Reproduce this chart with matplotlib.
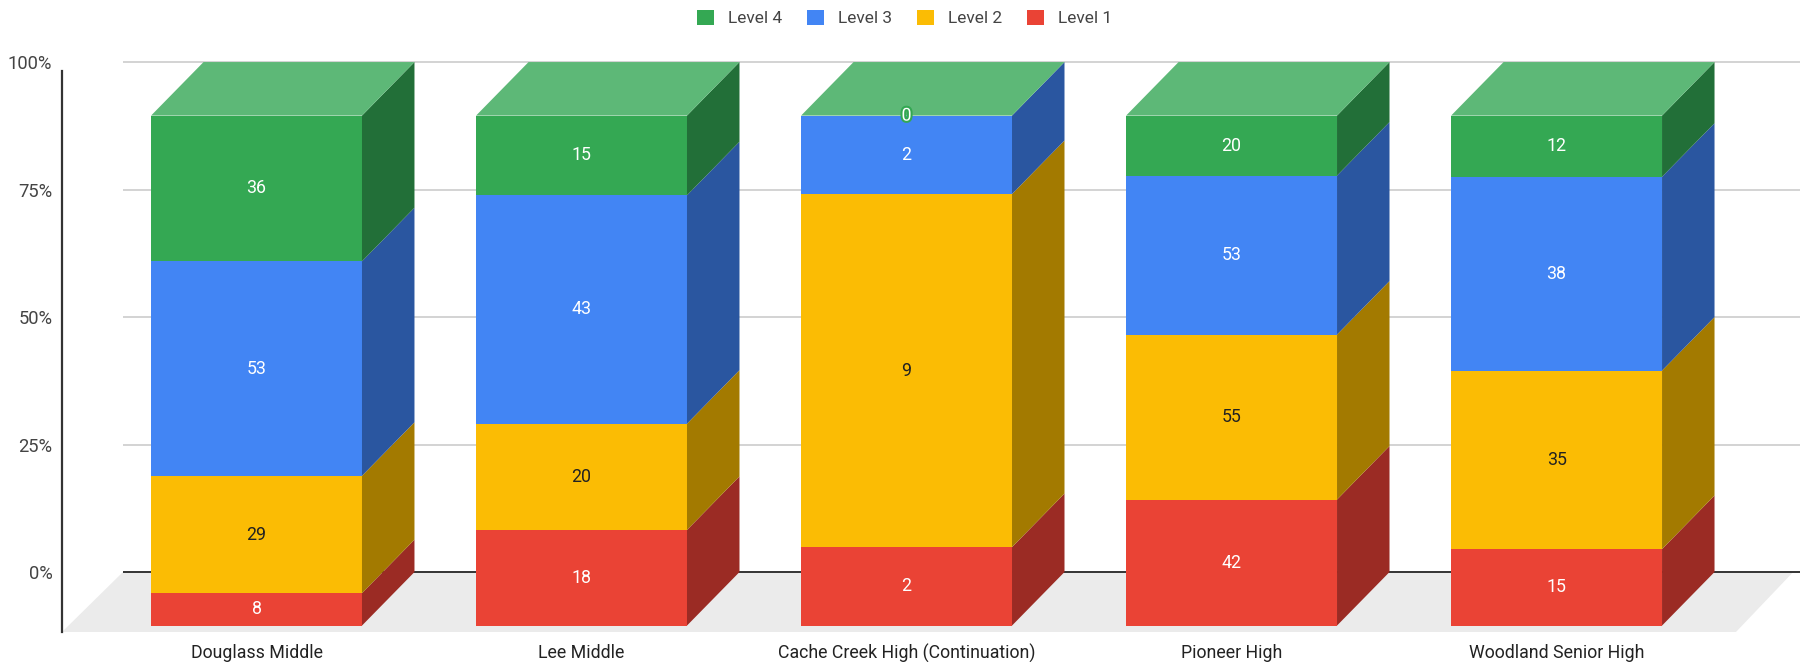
import numpy as np
import matplotlib.pyplot as plt
from matplotlib.patches import Polygon, Patch
import matplotlib.patheffects as pe

plt.rcParams['font.family'] = ['Roboto', 'DejaVu Sans']

# data (counts per level)
schools = ["Douglass Middle", "Lee Middle", "Cache Creek High (Continuation)",
           "Pioneer High", "Woodland Senior High"]
levels = ["Level 1", "Level 2", "Level 3", "Level 4"]
level1 = [8, 18, 2, 42, 15]
level2 = [29, 20, 9, 55, 35]
level3 = [53, 43, 2, 53, 38]
level4 = [36, 15, 0, 20, 12]
yticks = [0, 25, 50, 75, 100]

front_cols = ["#EA4335", "#FBBC04", "#4285F4", "#34A853"]
side_cols = ["#9B2B24", "#A37A00", "#2A56A0", "#226F38"]
top_col = "#5DB877"
text_cols = ["white", "#222222", "white", "white"]

W, H = 1808, 662
fig = plt.figure(figsize=(W / 100, H / 100), dpi=100)
ax = fig.add_axes([62 / W, 30 / H, 1738 / W, 572.5 / H])
ax.set_xlim(-0.5985, 4.749)
ax.set_ylim(-11.76, 100.5)

bw = 0.649   # bar width
dx = 0.1615  # depth offset, x
dy = 10.5    # depth offset, y (in %)

counts = np.array([level1, level2, level3, level4], dtype=float)
pct = counts / counts.sum(axis=0) * 100
cum = np.vstack([np.zeros(len(schools)), np.cumsum(pct, axis=0)])
x = np.arange(len(schools))

# floor + gridlines on back wall
ax.add_patch(Polygon([(-0.5985, -11.76), (4.552, -11.76), (4.728, 0), (-0.411, 0)],
                     closed=True, fc="#EBEBEB", ec="none", zorder=0))
ax.hlines(yticks[1:], -0.411, 4.749, color="#D0D0D0", lw=1.3, zorder=0.5)
ax.hlines(0, -0.411, 4.749, color="#333333", lw=1.4, zorder=1)

for k in range(4):
    ax.bar(x, pct[k], bottom=cum[k] - dy, width=bw, color=front_cols[k],
           linewidth=0, zorder=3)
    for i in x:
        xr = i + bw / 2
        ax.add_patch(Polygon([(xr, cum[k, i] - dy), (xr, cum[k + 1, i] - dy),
                              (xr + dx, cum[k + 1, i]), (xr + dx, cum[k, i])],
                             closed=True, fc=side_cols[k], ec="none", zorder=3))
        v = counts[k, i]
        ym = (cum[k, i] + cum[k + 1, i]) / 2 - dy
        t = ax.text(i, ym, "%d" % v, ha="center", va="center", fontsize=12.8,
                    color=text_cols[k], zorder=6)
        if v == 0:
            t.set_path_effects([pe.withStroke(linewidth=3, foreground=front_cols[k])])

# top faces
for i in x:
    ax.add_patch(Polygon([(i - bw / 2, 100 - dy), (i + bw / 2, 100 - dy),
                          (i + bw / 2 + dx, 100), (i - bw / 2 + dx, 100)],
                         closed=True, fc=top_col, ec="none", zorder=3))

for s in ["top", "right", "bottom"]:
    ax.spines[s].set_visible(False)
ax.spines["left"].set_bounds(-11.76, 98.2)
ax.spines["left"].set_color("#333333")
ax.spines["left"].set_linewidth(1.6)

ax.set_yticks(yticks)
ax.set_yticklabels(["%d%%" % t for t in yticks])
ax.set_xticks(x)
ax.set_xticklabels(schools)
ax.tick_params(axis="y", length=0, pad=7, labelsize=13.2, labelcolor="#444444")
ax.tick_params(axis="x", length=0, pad=8.5, labelsize=12.8, labelcolor="#222222")

handles = [Patch(fc=front_cols[k], ec="none", label=levels[k]) for k in [3, 2, 1, 0]]
fig.legend(handles=handles, loc="center", bbox_to_anchor=(0.5003, 1 - 18 / H),
           ncol=4, frameon=False, fontsize=12.5, handlelength=1.0, handleheight=1.0,
           handletextpad=0.78, columnspacing=1.44, labelcolor="#444444")

fig.savefig("out.png", dpi=100)
